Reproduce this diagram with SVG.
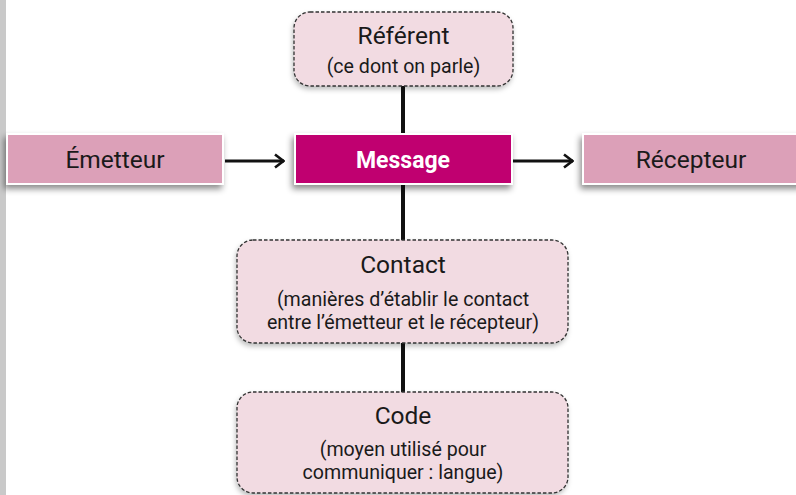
<svg xmlns="http://www.w3.org/2000/svg" width="796" height="495" viewBox="0 0 796 495">
<defs>
<filter id="sh" x="-10%" y="-20%" width="120%" height="160%">
<feDropShadow dx="-2" dy="4" stdDeviation="3" flood-color="#000" flood-opacity="0.45"/>
</filter>
<filter id="sh2" x="-10%" y="-20%" width="120%" height="160%">
<feDropShadow dx="-1" dy="3" stdDeviation="2.5" flood-color="#000" flood-opacity="0.25"/>
</filter>
<marker id="arr" viewBox="0 0 12 16" refX="11" refY="8" markerWidth="12" markerHeight="16" markerUnits="userSpaceOnUse" orient="auto">
<path d="M2,1.5 L10.5,8 L2,14.5" fill="none" stroke="#111" stroke-width="2.6" stroke-linejoin="miter"/>
</marker>
</defs>
<style>
text{font-family:Roboto,"Open Sans","DejaVu Sans",sans-serif;fill:#1a1a1a;text-anchor:middle}
.solid{fill:#DCA0B8;stroke:#fff;stroke-width:2}
.msg{fill:#C0006F;stroke:#fff;stroke-width:2}
.dash{fill:#F2DBE2;stroke:#333;stroke-width:1.3;stroke-dasharray:3.5 2}
.t{font-size:24.5px}
.s{font-size:19.6px}
.conn{stroke:#111;fill:none}
</style>
<rect x="0" y="0" width="6" height="495" fill="#C9C9C9"/>
<g id="connectors">
<line class="conn" x1="403" y1="86" x2="403" y2="134" stroke-width="4"/>
<line class="conn" x1="403" y1="184" x2="403" y2="240" stroke-width="4"/>
<line class="conn" x1="403" y1="343" x2="403" y2="392" stroke-width="4"/>
<line class="conn" x1="225" y1="161" x2="284" y2="161" stroke-width="3" marker-end="url(#arr)"/>
<line class="conn" x1="513" y1="161" x2="573" y2="161" stroke-width="3" marker-end="url(#arr)"/>
</g>
<g id="referent">
<rect class="dash" x="294" y="12" width="219" height="74" rx="16" filter="url(#sh2)"/>
<text class="t" x="403.5" y="44">Référent</text>
<text class="s" x="403.5" y="73">(ce dont on parle)</text>
</g>
<g id="emetteur">
<rect class="solid" x="7" y="134" width="216" height="50" filter="url(#sh)"/>
<text class="t" x="115" y="168">Émetteur</text>
</g>
<g id="message">
<rect class="msg" x="295" y="134" width="217" height="50" filter="url(#sh)"/>
<text x="403" y="168" font-size="23" font-weight="bold" style="fill:#fff">Message</text>
</g>
<g id="recepteur">
<rect class="solid" x="583" y="134" width="220" height="50" filter="url(#sh)"/>
<text class="t" x="691" y="168">Récepteur</text>
</g>
<g id="contact">
<rect class="dash" x="237" y="240" width="331" height="103" rx="16" filter="url(#sh2)"/>
<text class="t" x="403" y="273">Contact</text>
<text class="s" x="403" y="305.5">(manières d’établir le contact</text>
<text class="s" x="403" y="328.5">entre l’émetteur et le récepteur)</text>
</g>
<g id="code">
<rect class="dash" x="237" y="392" width="331" height="101" rx="16" filter="url(#sh2)"/>
<text class="t" x="403" y="424">Code</text>
<text class="s" x="403" y="455.5">(moyen utilisé pour</text>
<text class="s" x="403" y="478.5">communiquer : langue)</text>
</g>
</svg>
